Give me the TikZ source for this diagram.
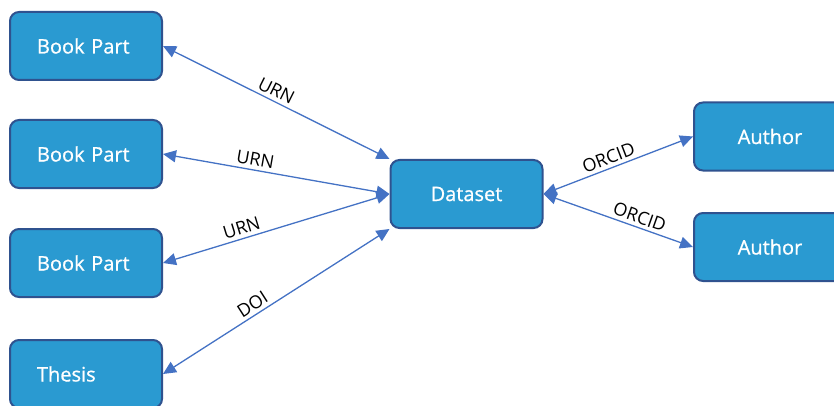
\documentclass[tikz,border=0pt]{standalone}
\usepackage{fontspec}
\setmainfont{Open Sans}
\newfontface\boxfont{Open Sans}[FakeBold=0.8]
\usetikzlibrary{arrows.meta}
\definecolor{boxfill}{HTML}{2A9AD1}
\definecolor{boxline}{HTML}{2F528F}
\definecolor{linkblue}{HTML}{4472C4}
\begin{document}
\begin{tikzpicture}[x=1pt, y=-1pt,
  box/.style={draw=boxline, line width=2pt, fill=boxfill, rounded corners=9pt,
    minimum width=152pt, minimum height=68pt, text=white, font=\boxfont\fontsize{20}{24}\selectfont},
  leftbox/.style={box, text width=98pt, inner xsep=27pt, align=left},
  link/.style={{Triangle[length=13pt,width=12pt]}-{Triangle[length=13pt,width=12pt]}, draw=linkblue, line width=1.3pt},
  lbl/.style={sloped, above, font=\fontsize{18}{20}\selectfont, text=black}]
  \useasboundingbox (0,0) rectangle (834,406);
  \node[leftbox] (bp1) at (86,46) {Book Part};
  \node[leftbox] (bp2) at (86,154) {Book Part};
  \node[leftbox] (bp3) at (86,263) {Book Part};
  \node[leftbox] (thesis) at (86,374) {Thesis};
  \node[box] (ds) at (466.5,194) {Dataset};
  \node[box] (au1) at (770,136.5) {Author};
  \node[box] (au2) at (770,247) {Author};
  % links to the dataset
  \draw[link] (bp1.east) -- node[lbl, pos=0.48] {URN} (ds.north west);
  \draw[link] (bp2.east) -- node[lbl, pos=0.4] {URN} (ds.west);
  \draw[link] (bp3.east) -- node[lbl, pos=0.36] {URN} (ds.west);
  \draw[link] (thesis.east) -- node[lbl, pos=0.42] {DOI} (ds.south west);
  \draw[link] (ds.east) -- node[lbl, pos=0.46] {ORCID} (au1.west);
  \draw[link] (ds.east) -- node[lbl, pos=0.62] {ORCID} (au2.west);
\end{tikzpicture}
\end{document}
